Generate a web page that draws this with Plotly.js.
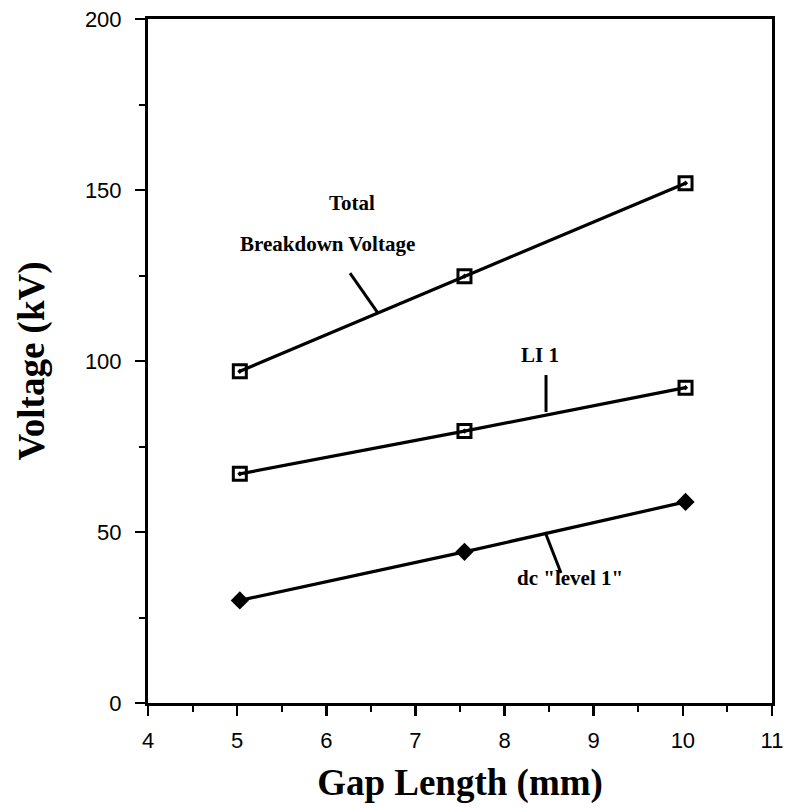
<!DOCTYPE html>
<html>
<head>
<meta charset="utf-8">
<script src="https://cdn.plot.ly/plotly-3.0.1.min.js"></script>
<style>html,body{margin:0;padding:0;background:#fff;}</style>
</head>
<body>
<div id="chart" style="width:787px;height:808px;"></div>
<script>
const gapLength = [5.03, 7.55, 10.03];
const totalBreakdown = [97, 124.8, 152];
const li1 = [67, 79.5, 92.2];
const dcLevel1 = [30, 44.2, 58.8];

const xTicks = [4, 5, 6, 7, 8, 9, 10, 11];
const yTicks = [0, 50, 100, 150, 200];

const serif = "Liberation Serif, Times New Roman, serif";
const sans = "Liberation Sans, Arial, sans-serif";

const lineStyle = {color: "#000", width: 3.2};

const traces = [
  {x: gapLength, y: totalBreakdown, mode: "lines+markers", name: "Total Breakdown Voltage",
   line: lineStyle, marker: {symbol: "square-open-dot", size: 13, color: "#000", line: {width: 3, color: "#000"}}},
  {x: gapLength, y: li1, mode: "lines+markers", name: "LI 1",
   line: lineStyle, marker: {symbol: "square-open-dot", size: 13, color: "#000", line: {width: 3, color: "#000"}}},
  {x: gapLength, y: dcLevel1, mode: "lines+markers", name: "dc level 1",
   line: lineStyle, marker: {symbol: "diamond", size: 14, color: "#000"}}
];

const labelFont = {family: serif, size: 21, color: "#000", weight: "bold"};

function leader(x0, y0, x1, y1) {
  return {type: "line", xref: "x", yref: "y", x0: x0, y0: y0, x1: x1, y1: y1,
          line: {color: "#000", width: 3}};
}

const layout = {
  width: 787, height: 808,
  margin: {l: 148, r: 15, t: 19, b: 105},
  paper_bgcolor: "#fff", plot_bgcolor: "#fff",
  showlegend: false,
  xaxis: {
    range: [4, 11], tickvals: xTicks, ticktext: xTicks.map(String),
    ticks: "outside", ticklen: 10, tickwidth: 2.5, tickcolor: "#000",
    minor: {dtick: 0.5, ticks: "outside", ticklen: 6, tickwidth: 2, tickcolor: "#000", showgrid: false},
    showline: true, linecolor: "#000", linewidth: 3, mirror: true,
    showgrid: false, zeroline: false, ticklabelstandoff: 6,
    tickfont: {family: sans, size: 22, color: "#000"},
    title: {text: "Gap Length (mm)", font: {family: serif, size: 37, color: "#000", weight: "bold"}, standoff: 17}
  },
  yaxis: {
    range: [0, 200], tickvals: yTicks, ticktext: yTicks.map(String),
    ticks: "outside", ticklen: 10, tickwidth: 2.5, tickcolor: "#000",
    minor: {dtick: 25, ticks: "outside", ticklen: 6, tickwidth: 2, tickcolor: "#000", showgrid: false},
    showline: true, linecolor: "#000", linewidth: 3, mirror: true,
    showgrid: false, zeroline: false, ticklabelstandoff: 9,
    tickfont: {family: sans, size: 22, color: "#000"},
    title: {text: "Voltage (kV)", font: {family: serif, size: 37, color: "#000", weight: "bold"}, standoff: 29}
  },
  annotations: [
    {x: 6.29, y: 146.2, xref: "x", yref: "y", text: "Total", showarrow: false, font: labelFont},
    {x: 6.01, y: 134.2, xref: "x", yref: "y", text: "Breakdown Voltage", showarrow: false, font: labelFont},
    {x: 8.40, y: 101.8, xref: "x", yref: "y", text: "LI 1", showarrow: false, font: labelFont},
    {x: 8.73, y: 36.5, xref: "x", yref: "y", text: "dc \"level 1\"", showarrow: false, font: labelFont}
  ],
  shapes: [
    leader(6.266, 125.7, 6.58, 114.0),
    leader(8.465, 95.9, 8.465, 85.1),
    leader(8.454, 50.0, 8.633, 38.0)
  ]
};

Plotly.newPlot("chart", traces, layout, {displayModeBar: false, staticPlot: true});
</script>
</body>
</html>
